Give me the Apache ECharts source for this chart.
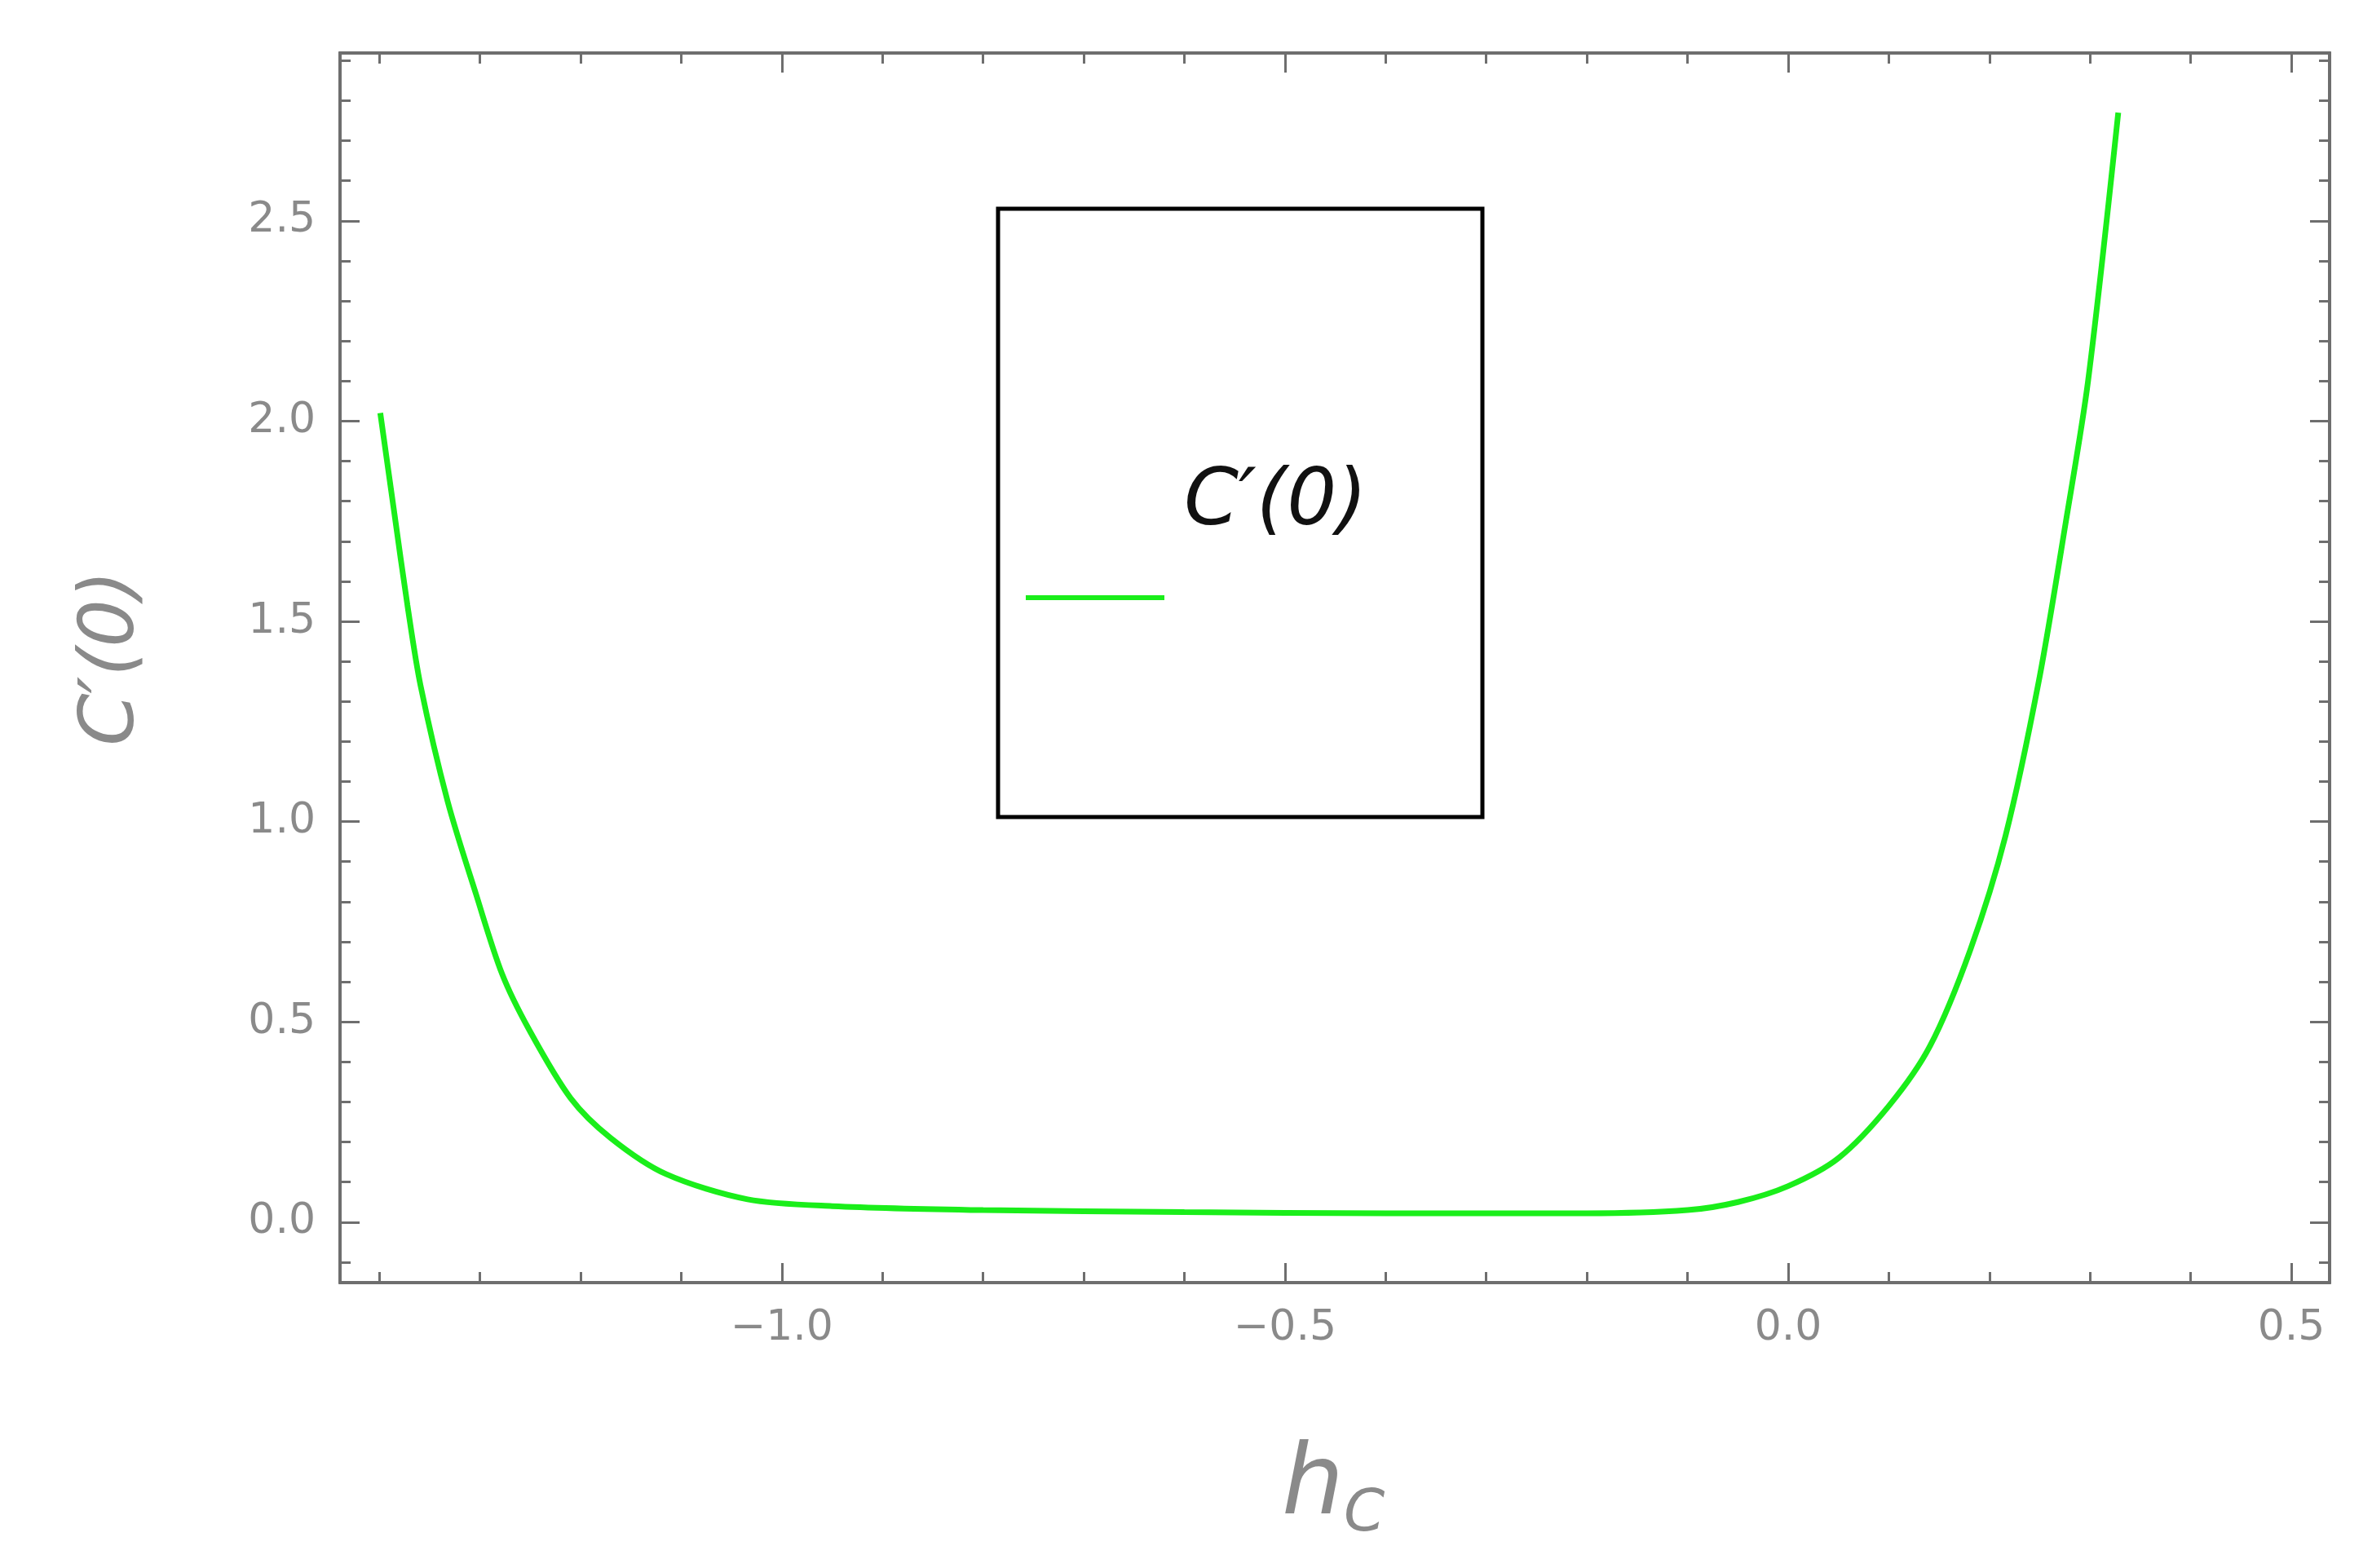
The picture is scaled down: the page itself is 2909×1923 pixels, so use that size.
<!DOCTYPE html>
<html><head><meta charset="utf-8">
<script src="https://cdn.jsdelivr.net/npm/echarts@6/dist/echarts.min.js"></script>
<style>html,body{margin:0;padding:0;background:#fff}#c{width:2909px;height:1923px}</style>
</head><body><div id="c"></div>
<script>
const xs = [-1.399,-1.385,-1.372,-1.359,-1.332,-1.304,-1.278,-1.251,-1.21,-1.17,-1.115,-1.034,-0.95,-0.8,-0.6,-0.4,-0.2,-0.1,-0.05,0.0,0.05,0.1,0.141,0.181,0.216,0.249,0.276,0.298,0.328];
const ys = [2.02,1.77,1.54,1.34,1.05,0.82,0.62,0.48,0.31,0.21,0.12,0.057,0.04,0.03,0.025,0.022,0.022,0.03,0.05,0.09,0.16,0.29,0.44,0.68,0.965,1.35,1.75,2.10,2.77];
const xMajor = [-1.0,-0.5,0.0,0.5];
const yMajor = [0.0,0.5,1.0,1.5,2.0,2.5];
const xMinor = []; for(let i=-14;i<=5;i++) xMinor.push(+(i/10).toFixed(1));
const yMinor = []; for(let i=-1;i<=29;i++) yMinor.push(+(i/10).toFixed(1));
const XMIN=-1.439, XMAX=0.538, YMIN=-0.151, YMAX=2.919;
const grey='#6e6e6e', lab='#8a8a8a';
function ax(pos, major, vals, isX){
  return {type:'value', position:pos, min:isX?XMIN:YMIN, max:isX?XMAX:YMAX,
    axisLine:{show:true,onZero:false,lineStyle:{color:grey,width:4}},
    splitLine:{show:false},
    axisTick:{show:true,inside:true,length:major?24:13,customValues:vals,lineStyle:{color:grey,width:3}},
    axisLabel:{show:major&&(pos==='bottom'||pos==='left'),customValues:vals,color:lab,fontSize:52,fontFamily:'DejaVu Sans',margin:30,
      formatter:v=>(v<0?'\u2212':'')+Math.abs(v).toFixed(1)}};
}
const chart=echarts.init(document.getElementById('c'));
chart.setOption({
  animation:false,
  grid:{left:417,top:65,width:2440,height:1508},
  xAxis:[ax('bottom',true,xMajor,true),ax('bottom',false,xMinor,true),ax('top',true,xMajor,true),ax('top',false,xMinor,true)],
  yAxis:[ax('left',true,yMajor,false),ax('left',false,yMinor,false),ax('right',true,yMajor,false),ax('right',false,yMinor,false)],
  series:[{type:'line',data:xs.map((x,i)=>[x,ys[i]]),smooth:0.3,symbol:'none',lineStyle:{color:'#1aee1a',width:7}}],
  graphic:[
    {type:'rect',shape:{x:1224,y:256,width:594,height:746},style:{fill:'none',stroke:'#000',lineWidth:5}},
    {type:'line',shape:{x1:1258,y1:733,x2:1428,y2:733},style:{stroke:'#1aee1a',lineWidth:6}},
    {type:'text',x:1452,y:618,style:{text:"C\u2032(0)",font:'italic 96px "DejaVu Sans"',fill:'#111',verticalAlign:'middle'}},
    {type:'text',x:1610,y:1825,style:{text:'h',font:'italic 120px "DejaVu Sans"',fill:lab,align:'center',verticalAlign:'middle'}},
    {type:'text',x:1648,y:1858,style:{text:'C',font:'italic 72px "DejaVu Sans"',fill:lab,verticalAlign:'middle'}},
    {type:'text',x:139,y:807,rotation:Math.PI/2,style:{text:"C\u2032(0)",font:'italic 92px "DejaVu Sans"',fill:lab,align:'center',verticalAlign:'middle'}}
  ]
});
</script></body></html>
